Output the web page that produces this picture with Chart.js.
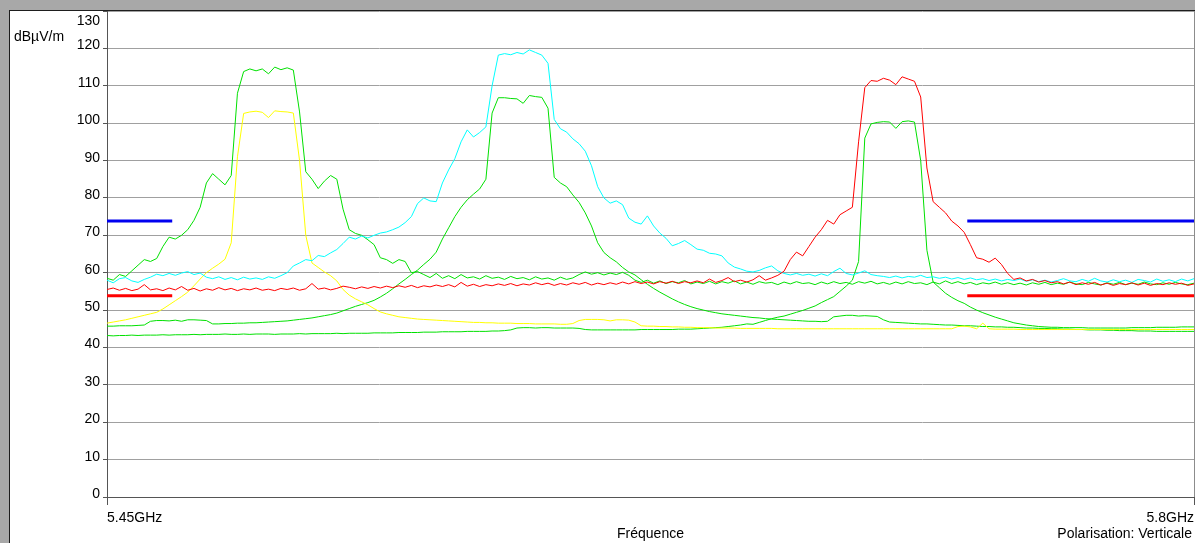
<!DOCTYPE html>
<html>
<head>
<meta charset="utf-8">
<script src="https://cdn.jsdelivr.net/npm/chart.js@4.4.1/dist/chart.umd.min.js"></script>
<style>
  html, body { margin: 0; padding: 0; background: #a8a8a8; overflow: hidden; }
  .panel { position: absolute; left: 9px; top: 10px; width: 1190px; height: 540px; background: #fff;
           border-left: 1px solid #1e1e1e; border-top: 1px solid #1e1e1e; }
  #spectrum { position: absolute; left: 0; top: 0; }
</style>
</head>
<body>
<div class="panel"></div>
<canvas id="spectrum" width="1195" height="543"></canvas>
<script>
// sweep: 5450 -> 5800 MHz, one point every 2 MHz
const freqs = Array.from({ length: 176 }, (_, i) => 5450 + 2 * i);

const xTickValues = [5450, 5800];
const xTickLabels = ['5.45GHz', '5.8GHz'];
const yTickValues = [0, 10, 20, 30, 40, 50, 60, 70, 80, 90, 100, 110, 120, 130];
const yTickLabels = ['0', '10', '20', '30', '40', '50', '60', '70', '80', '90', '100', '110', '120', '130'];
const yUnit = 'dBµV/m';
const xTitle = 'Fréquence';
const polarisation = 'Polarisation: Verticale';

// limit lines (dBµV/m) and the frequency spans they are drawn over
const limitSpans = [[5450, 5471], [5727, 5800]];
const blueLimit = 73.8;
const redLimit = 53.8;

// measured traces (dBµV/m)
const greenLeft = [
  58.5, 58, 59.5, 59, 60.5, 62, 63.5, 63, 63.8, 67,
  69.5, 69, 70, 71.5, 74, 77.5, 84, 86.5, 85, 83.5,
  86, 108, 113.8, 114.5, 114, 114.5, 113.2, 115, 114.3, 114.8,
  114.2, 103, 87, 85, 82.5, 84.5, 86, 85, 77, 71.5,
  70.5, 70, 68.8, 67.5, 64, 63.5, 62.5, 63.5, 63, 60,
  60.3, 59.5, 58.7, 59.8, 58.5, 59.2, 58.4, 59.5, 58.6, 58.9,
  58.3, 59.2, 58.5, 58.8, 58.2, 59, 58.4, 58.7, 58.1, 58.9,
  58.3, 58.6, 58, 58.8, 58.2, 58.6, 59.5, 60.2, 59.6, 60,
  59.4, 59.9, 59.5, 60.1, 59.3, 58, 57.4, 58, 57.2, 57.8,
  57.1, 57.6, 57.3, 57.9, 57, 57.5, 57.1, 57.7, 57, 57.6,
  57.2, 57.8, 57, 57.5, 56.9, 57.6, 57.2, 57.4, 56.8, 57.5,
  57, 57.6, 57.1, 57.3, 56.8, 57.5, 57, 57.6, 57.1, 57.4,
  56.9, 57.6, 57.2, 57.7, 57, 57.4, 56.9, 57.5, 57, 57.6,
  57.1, 57.3, 56.8, 57.5, 57, 57.8, 57.1, 57.6, 57, 57.4,
  56.8, 57.3, 57, 57.5, 56.9, 57.3, 56.8, 57.2, 56.7, 57.3,
  56.9, 57.4, 56.8, 57.2, 56.9, 57.5, 57, 56.8, 57.4, 57,
  56.7, 57.3, 56.9, 57.4, 56.8, 57.2, 56.9, 57.5, 57, 56.8,
  57.3, 56.9, 57.4, 57, 56.8, 57.2
];

const yellow = [
  46.5, 46.8, 47.1, 47.4, 47.8, 48.2, 48.6, 49, 49.4, 50.3,
  51.4, 52.5, 53.6, 54.8, 56.5, 58.3, 60, 61.2, 62.3, 63.6,
  68, 91, 102.6, 103, 103.2, 102.9, 101.5, 103.3, 103.1, 103,
  102.7, 90, 70, 62.6, 61.4, 60.2, 59.2, 57.8, 55.5, 54,
  53, 52.2, 51.4, 50.4, 49.5, 49, 48.6, 48.2, 48, 47.8,
  47.6, 47.5, 47.4, 47.3, 47.2, 47.1, 47, 46.9, 46.8, 46.7,
  46.7, 46.6, 46.6, 46.5, 46.5, 46.5, 46.4, 46.4, 46.4, 46.3,
  46.3, 46.3, 46.3, 46.2, 46.2, 46.4, 47.2, 47.5, 47.5, 47.5,
  47.4, 47.1, 47.4, 47.4, 47.3, 46.8, 45.8, 45.7, 45.7, 45.6,
  45.6, 45.5, 45.5, 45.4, 45.4, 45.3, 45.3, 45.3, 45.2, 45.2,
  45.2, 45.2, 45.1, 45.1, 45.1, 45.1, 45.1, 45.1, 45, 45,
  45, 45, 45, 45, 45, 45, 45, 45, 45, 45,
  45, 45, 45, 45, 45, 45, 45, 45, 45, 45,
  45, 45, 45, 45, 45, 45, 45, 45.6, 45.7, 45.5,
  45, 46.5, 45, 44.9, 44.9, 44.9, 44.9, 44.8, 44.8, 44.8,
  44.8, 44.8, 44.8, 44.8, 44.8, 44.8, 44.8, 44.8, 44.8, 44.8,
  44.8, 44.8, 44.8, 44.8, 44.8, 44.8, 44.8, 44.8, 44.8, 44.8,
  44.8, 44.8, 44.8, 44.8, 44.8, 44.8
];

const cyan = [
  58, 57.3, 58.4, 58.7, 57.8, 57.4, 58.2, 58.8, 59.6, 59.2,
  59.8, 59.3, 59.9, 60.3, 59.5, 59.9, 58.8, 58.4, 58.9, 58.2,
  58.7, 58.1, 58.8, 58.3, 58.6, 58.2, 58.9, 58.5, 59.2, 60,
  61.8, 62.6, 63.5, 63.2, 64.6, 64.3, 65.3, 66.2, 67.8, 69.5,
  69, 69.8, 69.3, 70, 70.6, 70.9, 71.5, 72.2, 73.4, 75,
  78.5, 80, 79.2, 79, 84, 87.5, 90.5, 95, 98.2, 96.3,
  97.5, 99, 110, 118.2, 118.6, 118.3, 118.9, 118.5, 119.6, 118.9,
  118.2, 116, 101, 98.5, 97.6, 95.8, 94.5, 92.5, 88.6, 83,
  80, 78.6, 79.2, 78.2, 74.6, 73.5, 73, 75.2, 72.5, 70.6,
  69.2, 67.2, 67.8, 68.6, 67.5, 66.3, 66, 65.2, 65, 64.5,
  62.6, 61.5, 61, 60.4, 60.2, 60.6, 61.3, 61.8, 60.5, 59.8,
  59.4, 59.8, 59.3, 59.6, 59.1, 59.7, 59.2, 60.3, 61.2, 59.8,
  59.4, 59.9, 60.5, 59.5, 59.2, 59, 58.7, 59.1, 58.6, 59,
  58.8, 59.3, 58.7, 58.9, 58.5, 58.8, 58.3, 58.7, 58.2, 58.6,
  58.1, 58.4, 57.9, 58.3, 57.8, 58.2, 57.9, 58.3, 57.7, 58.1,
  57.6, 58, 57.5, 57.9, 58.4, 57.8, 57.6, 58.2, 57.7, 58.5,
  57.8, 57.5, 58.1, 57.6, 58, 57.4, 58.2, 57.9, 57.5, 58.3,
  57.7, 58.1, 57.6, 58.3, 57.8, 58.4
];

const greenCentre = [
  45.7, 45.7, 45.8, 45.8, 45.8, 45.9, 46, 47, 47.2, 47.2,
  47.1, 47.3, 47, 47.4, 47.4, 47.3, 47.2, 46.3, 46.3, 46.4,
  46.4, 46.5, 46.5, 46.6, 46.6, 46.7, 46.8, 46.9, 47, 47.1,
  47.3, 47.5, 47.7, 47.9, 48.2, 48.5, 48.8, 49.2, 49.8, 50.4,
  51, 51.5, 52, 52.6, 53.5, 54.5, 55.7, 57, 58.2, 59.5,
  60.7, 62.2, 63.6, 65.5, 69, 72, 75, 77.5, 79.5, 81,
  82.4, 85, 102.7, 106.8, 106.8, 106.6, 106.5, 105.3, 107.4, 107.1,
  106.9, 104, 85.5, 84, 83, 80.8, 78.8, 76, 72.5, 68,
  65.4, 64, 62.9, 61.4, 60.2, 59.4, 58.1, 56.9, 55.8, 54.8,
  53.9, 53, 52.2, 51.5, 50.9, 50.4, 50, 49.6, 49.3, 49,
  48.8, 48.6, 48.4, 48.2, 48, 47.9, 47.7, 47.6, 47.5, 47.4,
  47.3, 47.2, 47.1, 47, 47, 46.9, 47, 48.2, 48.4, 48.6,
  48.6, 48.4, 48.5, 48.4, 48.3, 47.4, 46.8, 46.7, 46.6, 46.5,
  46.4, 46.3, 46.3, 46.2, 46.1, 46, 46, 45.9, 45.8, 45.8,
  45.7, 45.6, 45.6, 45.5, 45.5, 45.4, 45.4, 45.3, 45.2, 45.2,
  45.1, 45.1, 45, 45, 44.9, 44.9, 44.8, 44.8, 44.7, 44.7,
  44.7, 44.6, 44.6, 44.5, 44.5, 44.5, 44.4, 44.4, 44.4, 44.3,
  44.3, 44.3, 44.3, 44.3, 44.3, 44.3
];

const greenRight = [
  43.2, 43.1, 43.2, 43.2, 43.3, 43.2, 43.3, 43.3, 43.3, 43.4,
  43.3, 43.4, 43.4, 43.4, 43.5, 43.4, 43.5, 43.5, 43.5, 43.6,
  43.5, 43.5, 43.6, 43.5, 43.6, 43.6, 43.6, 43.5, 43.6, 43.6,
  43.6, 43.7, 43.6, 43.7, 43.7, 43.7, 43.7, 43.8, 43.7, 43.8,
  43.8, 43.8, 43.8, 43.9, 43.9, 43.9, 43.9, 44, 44, 44,
  44, 44.1, 44.1, 44.1, 44.2, 44.2, 44.2, 44.2, 44.3, 44.3,
  44.3, 44.3, 44.4, 44.4, 44.5, 44.7, 45.2, 45.3, 45.3, 45.2,
  45.3, 45.3, 45.2, 45.2, 45.2, 45.2, 45.1, 44.8, 44.7, 44.7,
  44.7, 44.7, 44.7, 44.7, 44.7, 44.7, 44.8, 44.8, 44.8, 44.8,
  44.8, 44.8, 44.9, 44.9, 44.9, 45, 45.1, 45.2, 45.3, 45.4,
  45.6, 45.8, 46, 46.3, 46.2, 46.7, 47.2, 47.7, 48.1, 48.4,
  48.9, 49.4, 49.9, 50.5, 51.1, 52, 52.8, 53.6, 55, 56.4,
  58, 63, 96, 99.8, 100.2, 100.4, 100.3, 98.6, 100.4, 100.6,
  100.3, 90, 66, 57.5, 56, 54.5, 53.4, 52.5, 51.8, 50.8,
  50, 49.3, 48.7, 48.1, 47.6, 47.1, 46.6, 46.3, 46, 45.8,
  45.6, 45.5, 45.4, 45.4, 45.3, 45.3, 45.3, 45.3, 45.2, 45.2,
  45.2, 45.2, 45.2, 45.2, 45.2, 45.3, 45.3, 45.3, 45.3, 45.4,
  45.4, 45.4, 45.4, 45.5, 45.5, 45.5
];

const red = [
  55.5, 55.9, 55.3, 55.8, 55.2, 55.6, 56.8, 55.4, 55.7, 55.2,
  55.9, 55.4, 56.3, 55.3, 55.8, 55.1, 55.7, 55.3, 56, 55.4,
  55.8, 55.2, 55.7, 55.4, 55.9, 55.3, 55.6, 55.2, 55.8, 55.5,
  55.9, 55.3, 55.7, 57.1, 55.6, 55.9, 55.4, 55.8, 56.4, 56.1,
  55.7, 56.2, 55.8, 56.3, 55.9, 56.4, 56, 56.5, 56.1, 56.6,
  56, 56.5, 56.2, 56.7, 56.3, 56.8, 56.2, 57.4, 56.4, 56.9,
  56.3, 56.8, 56.5, 57, 56.6, 57.1, 56.5, 57, 56.7, 57.3,
  56.8, 57.2, 56.6, 57.1, 56.7, 57.3, 56.9, 57.4, 56.7, 57.2,
  56.8, 57.3, 56.9, 57.5, 57, 57.6, 57.1, 57.5, 57, 57.6,
  57.2, 57.7, 57.1, 57.6, 57.3, 57.8, 57.3, 58.3, 57.4, 57.9,
  58.7, 57.6, 58, 57.5, 58.1, 59.2, 58, 58.6, 59.3, 60.4,
  63.5, 65.5, 64.5, 67, 69.5, 71.5, 74, 73, 75.5, 76.5,
  77.5, 95, 109.5, 111.4, 111.2, 112, 111.5, 110.3, 112.4, 111.8,
  111.2, 107, 88, 79, 77.5, 76, 73.8, 72.5, 70.8, 67.5,
  64, 63.6, 62.8, 63.9, 62.2, 59.8, 58.2, 58.6, 57.8, 58.2,
  57.5, 57.9, 57.3, 57.6, 57, 57.5, 56.8, 57.3, 56.9, 57.4,
  56.7, 57.2, 56.6, 57.1, 56.8, 57.3, 56.7, 57.2, 56.6, 57.1,
  56.8, 57.3, 56.9, 57.2, 56.6, 57
];

const FONT = "'Liberation Sans', Arial, sans-serif";

function trace(values) {
  return values.map((v, i) => ({ x: freqs[i], y: v }));
}

function limitLine(level) {
  const pts = [];
  limitSpans.forEach((span, k) => {
    if (k > 0) pts.push({ x: span[0], y: null });
    pts.push({ x: span[0], y: level }, { x: span[1], y: level });
  });
  return pts;
}

const textPlugin = {
  id: 'spectrumTexts',
  afterDraw(chart) {
    const { ctx, chartArea } = chart;
    const yScale = chart.scales.y;
    ctx.save();
    ctx.font = '14px ' + FONT;
    ctx.fillStyle = '#000';
    ctx.textBaseline = 'alphabetic';
    ctx.textAlign = 'right';
    yTickValues.forEach((v, i) => {
      const py = yScale.getPixelForValue(v);
      const base = py < chartArea.top + 6 ? py + 14 : py + 1;
      ctx.fillText(yTickLabels[i], chartArea.left - 7, base);
    });
    ctx.textAlign = 'left';
    ctx.fillText(yUnit, 14, 41);
    ctx.textAlign = 'center';
    ctx.fillText(xTitle, (chartArea.left + chartArea.right) / 2, 538);
    ctx.textAlign = 'right';
    ctx.fillText(polarisation, chartArea.right - 2, 538);

    // right frame of the plot
    ctx.strokeStyle = '#8c8c8c';
    ctx.lineWidth = 1;
    ctx.beginPath();
    ctx.moveTo(chartArea.right + 0.5, chartArea.top);
    ctx.lineTo(chartArea.right + 0.5, chartArea.bottom);
    ctx.stroke();
    ctx.restore();
  }
};

new Chart(document.getElementById('spectrum'), {
  type: 'line',
  data: {
    datasets: [
      { data: limitLine(blueLimit), borderColor: '#0000f0', borderWidth: 3, spanGaps: false, borderCapStyle: 'butt' },
      { data: limitLine(redLimit), borderColor: '#ff0000', borderWidth: 3, spanGaps: false, borderCapStyle: 'butt' },
      { data: trace(red), borderColor: '#ff0000' },
      { data: trace(cyan), borderColor: '#00ffff' },
      { data: trace(yellow), borderColor: '#ffff00' },
      { data: trace(greenLeft), borderColor: '#00e000' },
      { data: trace(greenCentre), borderColor: '#00e000' },
      { data: trace(greenRight), borderColor: '#00e000' }
    ]
  },
  options: {
    responsive: false,
    animation: false,
    devicePixelRatio: 1,
    layout: { padding: { top: 11, right: 1, left: 0, bottom: 0 } },
    plugins: { legend: { display: false }, tooltip: { enabled: false } },
    elements: {
      point: { radius: 0 },
      line: { borderWidth: 1, tension: 0, fill: false }
    },
    scales: {
      x: {
        type: 'linear',
        min: 5450,
        max: 5800,
        afterBuildTicks: (s) => { s.ticks = xTickValues.map(v => ({ value: v })); },
        afterFit: (s) => { s.height = 46; s.paddingLeft = 0; s.paddingRight = 0; },
        grid: { drawOnChartArea: false, drawTicks: true, tickLength: 8, tickColor: '#555' },
        border: { display: true, color: '#555', width: 1 },
        ticks: {
          align: 'inner',
          padding: 5,
          maxRotation: 0,
          autoSkip: false,
          color: '#000',
          font: { family: FONT, size: 14 },
          callback: (v, i) => xTickLabels[i]
        }
      },
      y: {
        min: 0,
        max: 130,
        afterBuildTicks: (s) => { s.ticks = yTickValues.map(v => ({ value: v })); },
        afterFit: (s) => { s.width = 107; },
        grid: { color: '#a0a0a0', tickColor: '#555', tickLength: 4, drawTicks: true },
        border: { display: true, color: '#555', width: 1 },
        ticks: { display: false }
      }
    }
  },
  plugins: [textPlugin]
});
</script>
</body>
</html>
